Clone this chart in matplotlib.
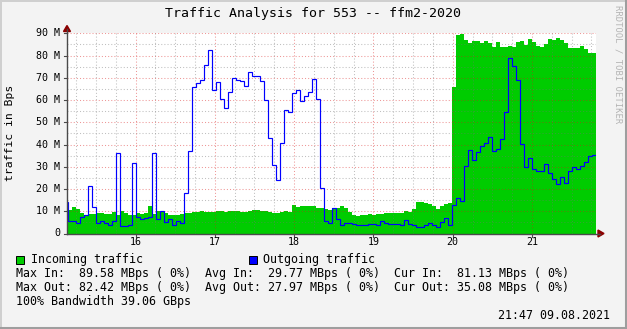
import numpy as np
import matplotlib
matplotlib.use("Agg")
import matplotlib.pyplot as plt
from matplotlib.patches import Polygon, Rectangle
from matplotlib.lines import Line2D

# ---------------- data (values in M Bps, one value per ~3 min step) -------------
in_mbps = [
    8.5, 10.35, 11.7, 11.1, 9.3, 8.1, 8.6, 8.7, 9.0, 9.0,
    8.55, 8.55, 9.45, 8.1, 10.0, 9.1, 8.3, 8.1, 9.0, 8.55,
    9.0, 12.15, 8.55, 10.0, 9.5, 9.0, 8.25, 8.25, 8.25, 8.7,
    9.15, 9.15, 9.6, 9.6, 10.0, 9.6, 9.6, 9.6, 10.0, 10.0,
    9.6, 10.0, 10.0, 10.0, 9.6, 9.6, 10.0, 10.5, 10.35, 10.0,
    9.9, 9.45, 9.15, 9.15, 9.45, 9.9, 9.45, 12.6, 11.85, 12.15,
    12.15, 12.15, 12.15, 11.25, 11.25, 10.8, 10.35, 11.25, 11.25, 12.15,
    11.25, 9.45, 8.25, 7.8, 8.1, 8.1, 8.55, 8.25, 8.7, 8.7,
    9.15, 9.15, 9.15, 9.15, 9.15, 9.9, 9.6, 10.95, 13.95, 13.95,
    13.5, 13.05, 12.15, 10.95, 12.15, 13.05, 13.5, 65.8, 89.3, 89.58,
    86.9, 85.5, 86.4, 86.4, 85.5, 86.4, 85.5, 83.9, 86.0, 83.9,
    83.9, 84.2, 83.9, 86.0, 86.4, 84.6, 87.3, 86.0, 84.2, 83.7,
    85.1, 87.3, 86.9, 87.8, 86.9, 85.5, 83.3, 83.3, 83.3, 84.2,
    82.8, 81.13, 81.13,
]
out_mbps = [
    14.2, 5.5, 5.5, 4.8, 7.5, 8.1, 21.3, 12.0, 4.5, 5.5,
    4.8, 4.0, 5.5, 36.3, 3.3, 3.3, 4.0, 31.8, 7.5, 6.6,
    7.0, 7.5, 36.3, 6.6, 10.0, 5.1, 6.3, 3.9, 5.4, 4.9,
    18.3, 37.2, 65.9, 67.8, 69.2, 75.9, 82.42, 64.7, 68.1, 60.6,
    56.6, 63.8, 69.9, 69.2, 68.7, 66.5, 72.8, 71.0, 71.0, 68.5,
    60.2, 43.1, 31.0, 24.2, 40.9, 55.3, 54.8, 63.1, 64.7, 59.7,
    62.0, 63.8, 69.6, 60.6, 20.6, 5.7, 4.5, 11.6, 6.3, 3.9,
    4.8, 4.8, 4.4, 3.9, 3.9, 3.9, 4.4, 4.4, 3.9, 5.7,
    4.8, 4.4, 4.4, 4.4, 3.9, 6.2, 4.4, 3.6, 3.0, 3.0,
    3.9, 4.8, 3.9, 3.0, 5.3, 7.1, 3.9, 12.9, 16.1, 14.7,
    30.5, 37.7, 33.2, 36.8, 39.5, 40.8, 43.5, 37.2, 38.1, 42.6,
    54.8, 79.1, 75.5, 69.2, 40.1, 30.0, 34.1, 29.1, 28.2, 28.2,
    31.4, 27.3, 24.6, 22.4, 25.5, 22.8, 28.2, 30.0, 29.1, 30.5,
    32.3, 35.0, 35.08,
]
start_hour = 15.098          # time of first sample (hours)
step_hours = 0.05044         # sample spacing (hours)
view_start, view_end = 15.136, 21.807

hour_ticks = [16, 17, 18, 19, 20, 21]
hour_labels = ["16", "17", "18", "19", "20", "21"]
y_ticks = [0, 10, 20, 30, 40, 50, 60, 70, 80, 90]
y_labels = ["0", "10 M", "20 M", "30 M", "40 M", "50 M", "60 M", "70 M", "80 M", "90 M"]

title = "Traffic Analysis for 553 -- ffm2-2020"
ylabel = "traffic in Bps"
legend_in = "Incoming traffic"
legend_out = "Outgoing traffic"
stats_lines = [
    "Max In:  89.58 MBps ( 0%)  Avg In:  29.77 MBps ( 0%)  Cur In:  81.13 MBps ( 0%)",
    "Max Out: 82.42 MBps ( 0%)  Avg Out: 27.97 MBps ( 0%)  Cur Out: 35.08 MBps ( 0%)",
    "100% Bandwidth 39.06 GBps",
]
timestamp = "21:47 09.08.2021"
watermark = "RRDTOOL / TOBI OETIKER"

# ---------------- styling ----------------
W, H = 627, 329
BG = "#F3F3F3"
GREEN = "#00CC00"
BLUE = "#0000FF"
MONO = "DejaVu Sans Mono"

def fx(x):
    return x / W

def fy(y):
    return 1 - y / H

fig = plt.figure(figsize=(W / 100, H / 100), dpi=100, facecolor=BG)
ax_l, ax_r, ax_t, ax_b = 67, 596, 33.3, 233.5
ax = fig.add_axes([fx(ax_l), fy(ax_b), (ax_r - ax_l) / W, (ax_b - ax_t) / H])
ax.set_facecolor("white")
ax.set_xlim(view_start, view_end)
ax.set_ylim(0, 90)
for s in ax.spines.values():
    s.set_visible(False)
ax.set_xticks([])
ax.set_yticks([])

edges = start_hour + step_hours * np.arange(len(in_mbps) + 1)
ax.stairs(in_mbps, edges, fill=True, color=GREEN, baseline=0, lw=0, zorder=2)

# grid (drawn over the area, like rrdtool)
minor_c = (0.45, 0.45, 0.45, 0.45)
major_c = (0.85, 0.1, 0.1, 0.45)
dot = (0, (1, 2))
for v in np.arange(5, 90, 10):
    ax.axhline(v, color=minor_c, lw=0.75, ls=dot, zorder=3)
for v in y_ticks[1:]:
    ax.axhline(v, color=major_c, lw=0.75, ls=dot, zorder=3)
q = np.arange(np.ceil(view_start * 4) / 4, view_end, 0.25)
for v in q:
    if abs(v - round(v)) > 1e-6:
        ax.axvline(v, color=minor_c, lw=0.75, ls=dot, zorder=3)
for v in hour_ticks:
    ax.axvline(v, color=major_c, lw=0.75, ls=dot, zorder=3)

ax.stairs(out_mbps, edges, baseline=None, color=BLUE, lw=0.85, zorder=5)

# axes lines, ticks, arrows
axis_c = "#4A4A4A"
fig.add_artist(Line2D([fx(ax_l), fx(600)], [fy(ax_b), fy(ax_b)], color=axis_c, lw=1.0))
fig.add_artist(Line2D([fx(ax_l), fx(ax_l)], [fy(ax_b), fy(29)], color=axis_c, lw=1.0))
for v in y_ticks:
    yy = ax_b - (ax_b - ax_t) * v / 90
    fig.add_artist(Line2D([fx(64), fx(ax_l)], [fy(yy), fy(yy)], color=axis_c, lw=0.8))
px_per_h = (ax_r - ax_l) / (view_end - view_start)
for v in hour_ticks:
    xx = ax_l + (v - view_start) * px_per_h
    fig.add_artist(Line2D([fx(xx), fx(xx)], [fy(ax_b), fy(ax_b + 3)], color=axis_c, lw=0.8))
arrow_c = "#8B0000"
fig.add_artist(Polygon([[fx(67), fy(25.5)], [fx(63.5), fy(31.5)], [fx(70.5), fy(31.5)]],
                       closed=True, color=arrow_c, transform=fig.transFigure))
fig.add_artist(Polygon([[fx(604), fy(ax_b)], [fx(598), fy(ax_b - 3.5)], [fx(598), fy(ax_b + 3.5)]],
                       closed=True, color=arrow_c, transform=fig.transFigure))

# tick labels
for v, lab in zip(y_ticks, y_labels):
    yy = ax_b - (ax_b - ax_t) * v / 90
    fig.text(fx(60), fy(yy), lab, ha="right", va="center", fontsize=7.2, family=MONO)
for v, lab in zip(hour_ticks, hour_labels):
    xx = ax_l + (v - view_start) * px_per_h
    fig.text(fx(xx), fy(242), lab, ha="center", va="center", fontsize=7.2, family=MONO)

# title, labels
fig.text(fx(313), fy(13.5), title, ha="center", va="center", fontsize=9.5, family=MONO)
fig.text(fx(10.5), fy(132.5), ylabel, ha="center", va="center", rotation=90,
         fontsize=8.2, family=MONO)
fig.text(fx(618), fy(5), watermark, ha="center", va="top", rotation=270,
         fontsize=6.4, family=MONO, color="#B4B4B4")

# legend
fig.add_artist(Rectangle((fx(16), fy(263.5)), 8 / W, 8 / H, facecolor=GREEN,
                         edgecolor="black", lw=0.7, transform=fig.transFigure))
fig.text(fx(31), fy(259.5), legend_in, ha="left", va="center", fontsize=8.4, family=MONO)
fig.add_artist(Rectangle((fx(249), fy(263.5)), 8 / W, 8 / H, facecolor=BLUE,
                         edgecolor="black", lw=0.7, transform=fig.transFigure))
fig.text(fx(263), fy(259.5), legend_out, ha="left", va="center", fontsize=8.4, family=MONO)
for i, line in enumerate(stats_lines):
    fig.text(fx(16), fy(273.5 + 14 * i), line, ha="left", va="center", fontsize=8.4, family=MONO)
fig.text(fx(610), fy(315.5), timestamp, ha="right", va="center", fontsize=8.4, family=MONO)

# 3D frame
fig.add_artist(Line2D([0, 1], [fy(0.5), fy(0.5)], color="#CFCFCF", lw=1.4))
fig.add_artist(Line2D([fx(0.5), fx(0.5)], [0, 1], color="#CFCFCF", lw=1.4))
fig.add_artist(Line2D([0, 1], [fy(327.5), fy(327.5)], color="#9E9E9E", lw=2.2))
fig.add_artist(Line2D([fx(625.5), fx(625.5)], [0, 1], color="#9E9E9E", lw=2.2))

fig.savefig("out.png", dpi=100, facecolor=BG)
